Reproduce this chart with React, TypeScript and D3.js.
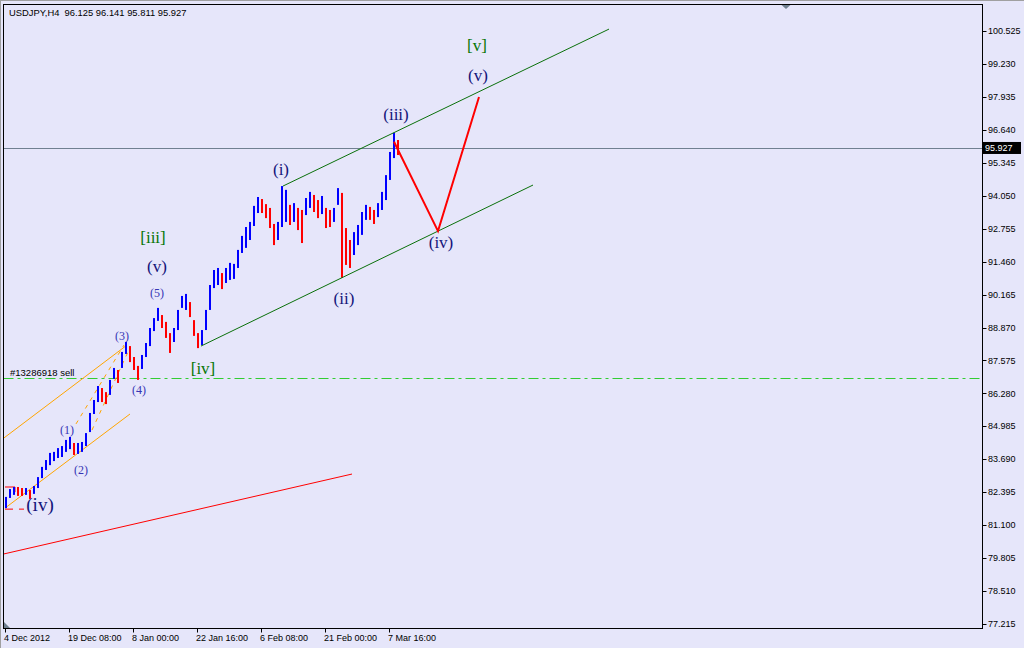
import React from 'react';
import * as d3 from 'd3';

// USDJPY H4 — each entry groups four H4 bars (high / low)
const barHighs = [
  82.21, 82.52, 82.60, 82.60, 82.56, 82.56, 82.48, 82.64, 82.99, 83.39,
  83.66, 83.94, 83.98, 84.13, 84.21, 84.45, 84.57, 84.33, 84.33, 84.37,
  84.72, 85.51, 86.02, 86.57, 86.49, 86.33, 86.81, 87.28, 87.20, 87.91,
  88.30, 88.14, 87.71, 87.36, 87.79, 88.26, 88.85, 89.24, 89.64, 89.36,
  89.09, 88.65, 88.85, 89.56, 90.11, 90.19, 89.87, 89.16, 88.65, 88.77,
  89.56, 90.54, 91.13, 91.21, 91.01, 91.21, 91.41, 91.37, 91.92, 92.47,
  92.82, 93.02, 93.65, 94.00, 93.92, 93.72, 93.57, 92.94, 93.02, 94.43,
  94.28, 93.69, 93.76, 93.57, 93.49, 93.96, 94.20, 94.08, 93.88, 94.04,
  93.57, 93.49, 93.57, 94.35, 94.16, 92.78, 92.31, 92.62, 92.90, 93.41,
  93.69, 93.61, 93.49, 93.76, 94.20, 94.86, 95.77, 96.52, 96.24,
];
const barLows = [
  81.77, 82.17, 82.29, 82.25, 82.25, 82.29, 82.13, 82.33, 82.56, 82.95,
  83.27, 83.46, 83.62, 83.74, 83.78, 83.98, 84.09, 83.86, 83.90, 83.98,
  84.21, 84.76, 85.47, 85.94, 85.94, 85.86, 86.22, 86.85, 86.69, 87.28,
  87.83, 87.51, 87.20, 86.81, 87.24, 87.71, 88.14, 88.73, 89.13, 88.85,
  88.46, 87.87, 88.30, 88.77, 89.64, 89.56, 89.28, 88.54, 88.06, 88.18,
  88.77, 89.56, 90.42, 90.54, 90.38, 90.62, 90.74, 90.78, 91.21, 91.80,
  92.00, 92.31, 92.86, 93.37, 93.37, 93.17, 92.78, 92.11, 92.31, 92.82,
  93.02, 92.90, 93.02, 92.70, 92.19, 93.29, 93.57, 93.41, 93.17, 93.33,
  92.78, 92.82, 93.02, 93.69, 90.82, 91.33, 91.21, 91.72, 92.11, 92.51,
  93.10, 93.10, 92.94, 93.21, 93.49, 93.88, 94.67, 95.53, 95.65,
];

const lastPrice = 95.927;
const sellPrice = 86.87;
const priceTicks = [
  100.525, 99.23, 97.935, 96.64, 95.345, 94.05, 92.755, 91.46, 90.165,
  88.87, 87.575, 86.28, 84.985, 83.69, 82.395, 81.1, 79.805, 78.51, 77.215,
];
const dateTicks = [0, 16, 32, 48, 64, 80, 96];
const dateLabels = [
  '4 Dec 2012', '19 Dec 08:00', '8 Jan 00:00', '22 Jan 16:00',
  '6 Feb 08:00', '21 Feb 00:00', '7 Mar 16:00',
];

// trend lines: [bar index, price]
const channelUpper: [number, number][] = [[69.5, 94.43], [151, 100.6]];
const channelLower: [number, number][] = [[49, 88.14], [132, 94.47]];
const redSupport: [number, number][] = [[-0.25, 79.97], [86.75, 83.11]];
const projection: [number, number][] = [[97.25, 96.17], [108.25, 92.66], [118.5, 97.93]];
const orangeUpper: [number, number][] = [[-0.25, 84.53], [30.5, 88.18]];
const orangeLower: [number, number][] = [[0, 81.77], [31.25, 85.47]];
const orangeFanA: [number, number][] = [[17.75, 85.08], [29.75, 88.18]];
const orangeFanB: [number, number][] = [[21.75, 84.84], [30.75, 87.91]];
const redBox: [number, number][] = [[0, 82.6], [2.5, 82.6], [2.5, 82.4]];
const redStop: [number, number][] = [[0, 81.73], [4.75, 81.73]];

// wave counts: bar index, price (baseline), text, degree
const waveIdx = [118, 118.25, 97.75, 109, 69, 84.75, 37, 38, 38, 29.25, 49.5, 33.5, 15.5, 19, 8.75];
const wavePrice = [99.74, 98.56, 97.03, 91.99, 94.86, 89.79, 92.19, 91.05, 90.07, 88.38, 87.04, 86.26, 84.68, 83.11, 81.66];
const waveText = ['[v]', '(v)', '(iii)', '(iv)', '(i)', '(ii)', '[iii]', '(v)', '(5)', '(3)', '[iv]', '(4)', '(1)', '(2)', '(iv)'];
const waveDegree = ['minor', 'minute', 'minute', 'minute', 'minute', 'minute', 'minor', 'minute', 'minuette', 'minuette', 'minor', 'minuette', 'minuette', 'minuette', 'minute'];

const W = 1024;
const H = 648;
const LEFT = 3.5;
const TOP = 4.5;
const RIGHT = 982.5;
const BOTTOM = 628.5;
const SANS = '"Liberation Sans", Tahoma, Arial, sans-serif';
const SERIF = '"Liberation Serif", "Times New Roman", serif';

export default function App() {
  const x = d3.scaleLinear().domain([0, 244.25]).range([5, 982]);
  const y = d3.scaleLinear().domain([77.215, 100.525]).range([624, 31]);
  const line = d3.line<[number, number]>().x(d => x(d[0])).y(d => y(d[1]));

  const bars = barHighs.map((h, i) => {
    const mid = (h + barLows[i]) / 2;
    const prev = i > 0 ? (barHighs[i - 1] + barLows[i - 1]) / 2 : mid;
    return { i, h, l: barLows[i], up: mid >= prev };
  });

  const degreeStyle: Record<string, { fill: string; size: number }> = {
    minor: { fill: '#057505', size: 17 },
    minute: { fill: '#14147a', size: 17 },
    minuette: { fill: '#3535b5', size: 12 },
  };

  const yLast = y(lastPrice);
  const ySell = Math.round(y(sellPrice)) + 0.5;

  return (
    <svg width={W} height={H} style={{ position: 'absolute', left: 0, top: 0, background: '#E6E6FA' }}>
      <defs>
        <clipPath id="plot">
          <rect x={LEFT} y={TOP} width={RIGHT - LEFT} height={BOTTOM - TOP} />
        </clipPath>
      </defs>
      <rect x={0} y={0} width={W} height={H} fill="#E6E6FA" />
      <line x1={0} y1={0.5} x2={W} y2={0.5} stroke="#a0a0a0" />
      <line x1={0.5} y1={0} x2={0.5} y2={H} stroke="#a0a0a0" />

      <g clipPath="url(#plot)">
        {/* current price + sell order */}
        <line x1={LEFT} x2={RIGHT} y1={Math.round(yLast) + 0.5} y2={Math.round(yLast) + 0.5} stroke="#708090" />
        <line x1={LEFT} x2={RIGHT} y1={ySell} y2={ySell} stroke="#32CD32" strokeDasharray="10 4 3 4" />
        <text x={10} y={ySell - 3} fontFamily={SANS} fontSize={9.5} fill="#000">#13286918 sell</text>

        {/* trend lines */}
        <path d={line(redSupport) || ''} stroke="#FF0000" fill="none" />
        <path d={line(orangeUpper) || ''} stroke="#FFA500" fill="none" />
        <path d={line(orangeLower) || ''} stroke="#FFA500" fill="none" />
        <path d={line(orangeFanA) || ''} stroke="#FFA500" fill="none" strokeDasharray="4 5" />
        <path d={line(orangeFanB) || ''} stroke="#FFA500" fill="none" strokeDasharray="4 5" />
        <path d={line(redBox) || ''} stroke="#FF0000" fill="none" />
        <path d={line(redStop) || ''} stroke="#FF0000" fill="none" strokeDasharray="8 6" />

        {/* price bars */}
        {bars.map(b => (
          <rect
            key={b.i}
            x={x(b.i)}
            y={y(b.h)}
            width={2}
            height={Math.max(1, y(b.l) - y(b.h))}
            fill={b.up ? '#0000FF' : '#FF0000'}
          />
        ))}

        <path d={line(channelUpper) || ''} stroke="#0a700a" fill="none" />
        <path d={line(channelLower) || ''} stroke="#0a700a" fill="none" />
        <path d={line(projection) || ''} stroke="#FF0000" strokeWidth={2} fill="none" />

        {waveText.map((t, k) => {
          const st = degreeStyle[waveDegree[k]];
          return (
            <text
              key={k}
              x={x(waveIdx[k])}
              y={y(wavePrice[k])}
              textAnchor="middle"
              fontFamily={SERIF}
              fontSize={k === 14 ? 19 : st.size}
              fill={st.fill}
            >
              {t}
            </text>
          );
        })}

        <path d={`M${LEFT},${BOTTOM - 7} L${LEFT},${BOTTOM} L${LEFT + 7},${BOTTOM} Z`} fill="#708090" />
      </g>

      {/* shift marker */}
      <path d="M781,4.5 L791,4.5 L786,9 Z" fill="#708090" />

      {/* frame */}
      <rect x={LEFT} y={TOP} width={RIGHT - LEFT} height={BOTTOM - TOP} fill="none" stroke="#000" />

      {/* header */}
      <text x={9} y={15.5} fontFamily={SANS} fontSize={9.4} fill="#000" style={{ whiteSpace: 'pre' }}>
        {'USDJPY,H4  96.125 96.141 95.811 95.927'}
      </text>

      {/* price axis */}
      {priceTicks.map(p => (
        <g key={p}>
          <line x1={RIGHT} x2={RIGHT + 4} y1={Math.round(y(p)) + 0.5} y2={Math.round(y(p)) + 0.5} stroke="#000" />
          <text x={988} y={y(p)} dy="0.35em" fontFamily={SANS} fontSize={9} fill="#000">
            {d3.format('.3f')(p)}
          </text>
        </g>
      ))}
      <rect x={983} y={yLast - 6} width={38} height={12} fill="#000" />
      <text x={985} y={yLast} dy="0.35em" fontFamily={SANS} fontSize={9} fill="#fff">
        {d3.format('.3f')(lastPrice)}
      </text>

      {/* time axis */}
      {dateTicks.map((t, k) => (
        <g key={t}>
          <line x1={Math.round(x(t)) + 0.5} x2={Math.round(x(t)) + 0.5} y1={BOTTOM} y2={BOTTOM + 4} stroke="#000" />
          <text x={x(t) - 1} y={641} fontFamily={SANS} fontSize={9} fill="#000">
            {dateLabels[k]}
          </text>
        </g>
      ))}
    </svg>
  );
}
